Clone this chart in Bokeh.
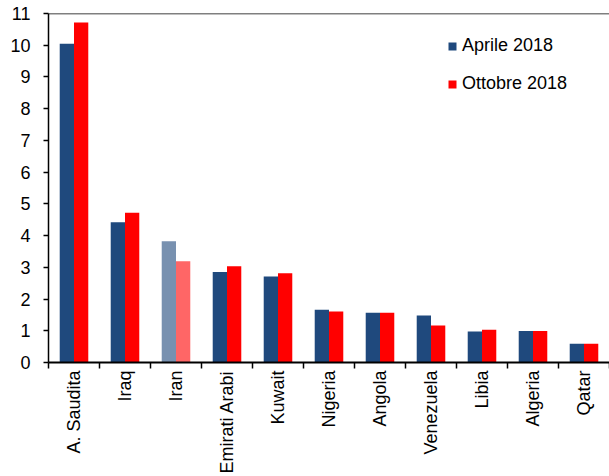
import numpy as np
from bokeh.plotting import figure
from bokeh.models import ColumnDataSource, FixedTicker, Span, Legend, LegendItem, Range1d
from bokeh.transform import dodge
from bokeh.embed import file_html
from bokeh.resources import INLINE

countries = ["A. Saudita", "Iraq", "Iran", "Emirati Arabi", "Kuwait", "Nigeria",
             "Angola", "Venezuela", "Libia", "Algeria", "Qatar"]
aprile_2018 = [10.05, 4.42, 3.82, 2.85, 2.71, 1.66, 1.57, 1.48, 0.98, 0.99, 0.59]
ottobre_2018 = [10.72, 4.72, 3.19, 3.03, 2.81, 1.61, 1.57, 1.17, 1.03, 0.99, 0.59]
y_ticks = list(range(0, 12))
highlight = "Iran"

BLUE, RED = "#1F497D", "#FF0000"
BLUE_LIGHT, RED_LIGHT = "#7891B0", "#FF6666"

n = len(countries)
xc = np.arange(n) + 0.5
src = ColumnDataSource(dict(
    x=xc, apr=aprile_2018, ott=ottobre_2018,
    c_apr=[BLUE_LIGHT if c == highlight else BLUE for c in countries],
    c_ott=[RED_LIGHT if c == highlight else RED for c in countries],
))

FONT = "Liberation Sans"
p = figure(width=609, height=476, output_backend="svg", toolbar_location=None,
           x_range=Range1d(0, n), y_range=Range1d(0, 11),
           min_border_left=48, min_border_right=0, min_border_top=13, min_border_bottom=112)
p.outline_line_color = None
p.xgrid.visible = False
p.ygrid.visible = False
p.background_fill_color = "white"

bw = 0.28
r1 = p.vbar(x=dodge("x", -bw / 2, range=p.x_range), top="apr", width=bw, bottom=0,
            source=src, fill_color="c_apr", line_color=None)
r2 = p.vbar(x=dodge("x", bw / 2, range=p.x_range), top="ott", width=bw, bottom=0,
            source=src, fill_color="c_ott", line_color=None)

# y axis
p.yaxis.ticker = FixedTicker(ticks=y_ticks)
p.yaxis.major_tick_out = 5
p.yaxis.major_tick_in = 0
p.yaxis.minor_tick_line_color = None
p.yaxis.axis_line_color = "black"
p.yaxis.axis_line_width = 1.5
p.yaxis.major_tick_line_width = 1.5
p.yaxis.major_label_text_font = FONT
p.yaxis.major_label_text_font_size = "18px"
p.yaxis.major_label_text_color = "black"
p.yaxis.major_label_standoff = 13

# x axis
p.xaxis.ticker = FixedTicker(ticks=list(xc), minor_ticks=list(range(0, n + 1)))
p.xaxis.major_label_overrides = {float(x): c for x, c in zip(xc, countries)}
p.xaxis.major_tick_line_color = None
p.xaxis.minor_tick_out = 6
p.xaxis.minor_tick_in = 0
p.xaxis.minor_tick_line_color = "black"
p.xaxis.minor_tick_line_width = 1.5
p.xaxis.axis_line_color = "black"
p.xaxis.axis_line_width = 2
p.xaxis.major_label_orientation = np.pi / 2
p.xaxis.major_label_text_font = FONT
p.xaxis.major_label_text_font_size = "18px"
p.xaxis.major_label_text_color = "black"
p.xaxis.major_label_standoff = 2

p.add_layout(Span(location=11, dimension="width", line_color="black", line_width=1.5))

legend = Legend(items=[LegendItem(label="Aprile 2018", renderers=[r1], index=0),
                       LegendItem(label="Ottobre 2018", renderers=[r2], index=0)],
                location=(399, 268), orientation="vertical")
legend.border_line_color = None
legend.background_fill_alpha = 0
legend.padding = 0
legend.margin = 0
legend.spacing = 17
legend.glyph_width = 10
legend.glyph_height = 10
legend.label_standoff = 5
legend.label_text_font = FONT
legend.label_text_font_size = "18px"
legend.label_text_color = "black"
p.add_layout(legend)

open("out.html", "w").write(file_html(p, INLINE))
